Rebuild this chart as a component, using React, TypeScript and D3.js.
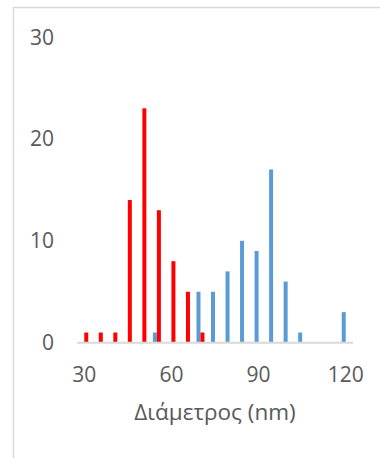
import React, { useEffect, useRef } from 'react'
import * as d3 from 'd3'

// διάμετροι (nm) - κατηγορίες του άξονα x
const categories = [30, 35, 40, 45, 50, 55, 60, 65, 70, 75, 80, 85, 90, 95, 100, 105, 110, 115, 120]
// κόκκινη σειρά
const redValues = [1, 1, 1, 14, 23, 13, 8, 5, 1, 0, 0, 0, 0, 0, 0, 0, 0, 0, 0]
// μπλε σειρά
const blueValues = [0, 0, 0, 0, 0, 1, 0, 0, 5, 5, 7, 10, 9, 17, 6, 1, 0, 0, 3]
const xTickLabels = [30, 60, 90, 120]
const yTicks = [0, 10, 20, 30]
const xTitle = 'Διάμετρος (nm)'

const W = 380,
  H = 458
const FONT = '"Open Sans", "DejaVu Sans", sans-serif'
const TEXT_COLOR = '#595959'

export default function App() {
  const node = useRef<SVGSVGElement>(null)

  useEffect(() => {
    const svg = d3.select(node.current)
    svg.selectAll('*').remove()

    const x = d3.scaleBand<number>()
      .domain(categories)
      .range([77, 353])
      .paddingInner(0.45)
      .paddingOuter(0.225)

    const series = d3.scaleBand<string>()
      .domain(['blue', 'red'])
      .range([0, x.bandwidth()])

    const y = d3.scaleLinear()
      .domain([0, 30])
      .range([342.7, 37])

    // πλαίσιο
    svg.append('rect')
      .attr('x', 13.5)
      .attr('y', 7.5)
      .attr('width', 420)
      .attr('height', 480)
      .attr('fill', 'white')
      .attr('stroke', '#d9d9d9')
      .attr('stroke-width', 1.5)

    // ετικέτες y
    svg.selectAll('.y_text')
      .data(yTicks)
      .enter()
      .append('text')
      .attr('class', 'y_text')
      .attr('x', 54)
      .attr('y', d => y(d))
      .attr('dy', '0.36em')
      .attr('text-anchor', 'end')
      .attr('font-family', FONT)
      .attr('font-size', '21px')
      .attr('fill', TEXT_COLOR)
      .text(d => d)

    const rows = categories.map((c, i) => ({ c, red: redValues[i], blue: blueValues[i] }))

    svg.selectAll('.blue')
      .data(rows.filter(d => d.blue > 0))
      .enter()
      .append('rect')
      .attr('class', 'blue')
      .attr('x', d => x(d.c)! + series('blue')!)
      .attr('y', d => y(d.blue))
      .attr('width', series.bandwidth())
      .attr('height', d => y(0) - y(d.blue))
      .attr('fill', '#5b9bd5')

    svg.selectAll('.red')
      .data(rows.filter(d => d.red > 0))
      .enter()
      .append('rect')
      .attr('class', 'red')
      .attr('x', d => x(d.c)! + series('red')!)
      .attr('y', d => y(d.red))
      .attr('width', series.bandwidth())
      .attr('height', d => y(0) - y(d.red))
      .attr('fill', '#ff0000')

    // άξονας x
    svg.append('line')
      .attr('x1', 77)
      .attr('x2', 353)
      .attr('y1', y(0))
      .attr('y2', y(0))
      .attr('stroke', '#d9d9d9')
      .attr('stroke-width', 2)

    svg.selectAll('.x_text')
      .data(xTickLabels)
      .enter()
      .append('text')
      .attr('class', 'x_text')
      .attr('x', d => x(d)! + x.bandwidth() / 2)
      .attr('y', 381.5)
      .attr('text-anchor', 'middle')
      .attr('font-family', FONT)
      .attr('font-size', '21px')
      .attr('fill', TEXT_COLOR)
      .text(d => d)

    svg.append('text')
      .attr('x', 215)
      .attr('y', 420)
      .attr('text-anchor', 'middle')
      .attr('font-family', FONT)
      .attr('font-size', '22.5px')
      .attr('fill', TEXT_COLOR)
      .text(xTitle)
  }, [])

  return (
    <svg
      ref={node}
      width={W}
      height={H}
      style={{ position: 'absolute', left: 0, top: 0, display: 'block' }}
    />
  )
}
